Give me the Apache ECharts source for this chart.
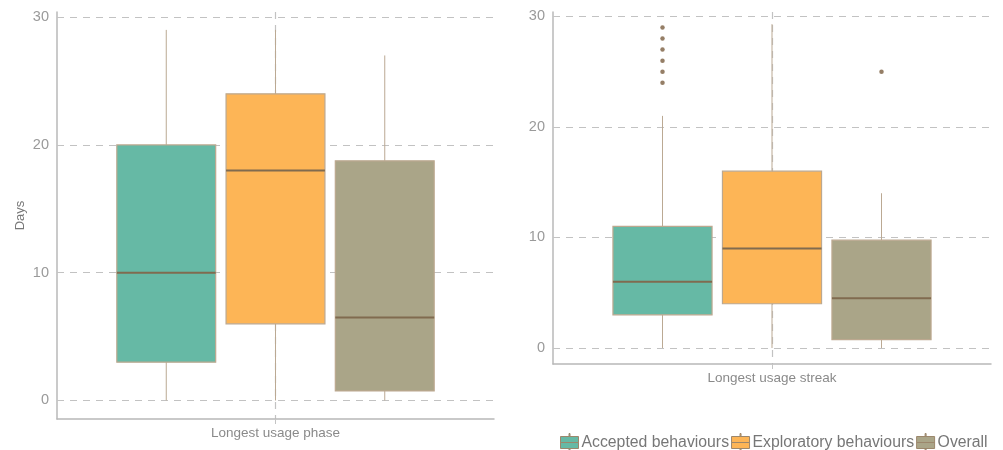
<!DOCTYPE html>
<html><head><meta charset="utf-8">
<script src="https://cdn.jsdelivr.net/npm/echarts@6/dist/echarts.min.js"></script>
<style>html,body{margin:0;padding:0;background:#fff}#c{width:1003px;height:450px}</style>
</head><body><div id="c"></div>
<script>
// ---- data ----
const groups = ['Accepted behaviours', 'Exploratory behaviours', 'Overall'];
const phaseCategory = ['Longest usage phase'];
const streakCategory = ['Longest usage streak'];
// [min, Q1, median, Q3, max]
const phaseAccepted = [0, 3, 10, 20, 29];
const phaseExploratory = [0, 6, 18, 24, 29];
const phaseOverall = [0, 0.75, 6.5, 18.75, 27];
const streakAccepted = [0, 3, 6, 11, 21];
const streakExploratory = [0, 4, 9, 16, 29.3];
const streakOverall = [0, 0.75, 4.5, 9.75, 14];
const streakAcceptedOutliers = [24, 25, 26, 27, 28, 29];
const streakOverallOutliers = [25];
const yAxisName = 'Days';

// ---- style ----
const colors = ['#66b9a5', '#fdb556', '#aaa588'];
const FONT = '"Liberation Sans", Arial, sans-serif';
const gridLine = { show: true, showMinLine: false, showMaxLine: false, lineStyle: { color: '#c2c2c2', type: [7, 6], width: 1.2 } };
const BOX_RATIO = 0.905;

function boxItem(params, api) {
  const x = api.value(0);
  const pMin = api.coord([x, api.value(1)]);
  const pQ1 = api.coord([x, api.value(2)]);
  const pMd = api.coord([x, api.value(3)]);
  const pQ3 = api.coord([x, api.value(4)]);
  const pMax = api.coord([x, api.value(5)]);
  const w = api.size([1, 0])[0] * BOX_RATIO;
  const cx = pMd[0];
  const whisker = { stroke: '#bba993', lineWidth: 1 };
  return {
    type: 'group',
    children: [
      { type: 'line', shape: { x1: cx, y1: pQ3[1], x2: cx, y2: pMax[1] }, style: whisker },
      { type: 'line', shape: { x1: cx, y1: pQ1[1], x2: cx, y2: pMin[1] }, style: whisker },
      { type: 'rect', shape: { x: cx - w / 2, y: pQ3[1], width: w, height: pQ1[1] - pQ3[1] },
        style: { fill: api.visual('color'), stroke: '#bca88f', lineWidth: 1.2 } },
      { type: 'line', shape: { x1: cx - w / 2, y1: pMd[1], x2: cx + w / 2, y2: pMd[1] },
        style: { stroke: '#806b4f', lineWidth: 2 } }
    ]
  };
}

function yAxis(gridIndex, name) {
  return {
    type: 'value', gridIndex: gridIndex, min: -1.45, max: 30.4, splitNumber: 3,
    name: name, nameLocation: 'middle', nameGap: 30,
    nameTextStyle: { fontSize: 13, color: '#777', fontFamily: FONT },
    axisLine: { show: true, onZero: false, lineStyle: { color: '#b8b8b8', width: 1.5 } },
    axisTick: { show: true, inside: true, length: 4, lineStyle: { color: '#c4c4c4' } },
    axisLabel: { showMinLabel: false, showMaxLabel: false, fontSize: 14.5, color: '#9a9a9a', margin: 8, fontFamily: FONT },
    splitLine: gridLine
  };
}

function catAxis(gridIndex, cats) {
  return {
    type: 'category', gridIndex: gridIndex, data: cats, boundaryGap: true,
    axisLine: { show: true, onZero: false, lineStyle: { color: '#b8b8b8', width: 1.5 } },
    axisTick: { show: true, alignWithLabel: true, length: 5, lineStyle: { color: '#c4c4c4' } },
    axisLabel: { fontSize: 13.5, color: '#8a8a8a', margin: 7, fontFamily: FONT },
    splitLine: { show: false }
  };
}

function posAxis(gridIndex) {
  return {
    type: 'value', gridIndex: gridIndex, min: -1, max: 3, interval: 2,
    axisLine: { show: false, onZero: false }, axisTick: { show: false }, axisLabel: { show: false },
    splitLine: gridLine
  };
}

const phaseSets = [phaseAccepted, phaseExploratory, phaseOverall];
const streakSets = [streakAccepted, streakExploratory, streakOverall];

const series = [];
phaseSets.forEach((arr, i) => {
  series.push({
    type: 'custom', name: groups[i], xAxisIndex: 1, yAxisIndex: 0,
    itemStyle: { color: colors[i] }, renderItem: boxItem,
    encode: { x: 0, y: [1, 2, 3, 4, 5] },
    data: [[i].concat(arr)], z: 3
  });
});
streakSets.forEach((arr, i) => {
  series.push({
    type: 'custom', name: groups[i], xAxisIndex: 3, yAxisIndex: 1,
    itemStyle: { color: colors[i] }, renderItem: boxItem,
    encode: { x: 0, y: [1, 2, 3, 4, 5] },
    data: [[i].concat(arr)], z: 3
  });
});
series.push({
  type: 'scatter', name: groups[0], xAxisIndex: 3, yAxisIndex: 1, symbolSize: 4.5,
  itemStyle: { color: '#7b5e40' }, data: streakAcceptedOutliers.map(v => [0, v]), z: 4
});
series.push({
  type: 'scatter', name: groups[2], xAxisIndex: 3, yAxisIndex: 1, symbolSize: 4.5,
  itemStyle: { color: '#7b5e40' }, data: streakOverallOutliers.map(v => [2, v]), z: 4
});

const chart = echarts.init(document.getElementById('c'));
chart.setOption({
  animation: false,
  backgroundColor: '#fff',
  textStyle: { fontFamily: FONT },
  grid: [
    { left: 57, right: 509, top: 12, bottom: 31, containLabel: false },
    { left: 553, right: 12, top: 12, bottom: 86, containLabel: false }
  ],
  xAxis: [catAxis(0, phaseCategory), posAxis(0), catAxis(1, streakCategory), posAxis(1)],
  yAxis: [yAxis(0, yAxisName), yAxis(1, '')],
  legend: {
    data: groups, left: 555, top: 428, itemWidth: 20, itemHeight: 18, itemGap: 2,
    icon: 'path://M9.5,0h1v3h-1z M1,3h18v6h-18z M1,9h18v6h-18z M9.5,15h1v3h-1z',
    itemStyle: { borderColor: '#9c876c', borderWidth: 1 },
    textStyle: { fontSize: 15.8, color: '#777', fontFamily: FONT, padding: [0, 0, 0, -3] }
  },
  series: series
});
</script></body></html>
